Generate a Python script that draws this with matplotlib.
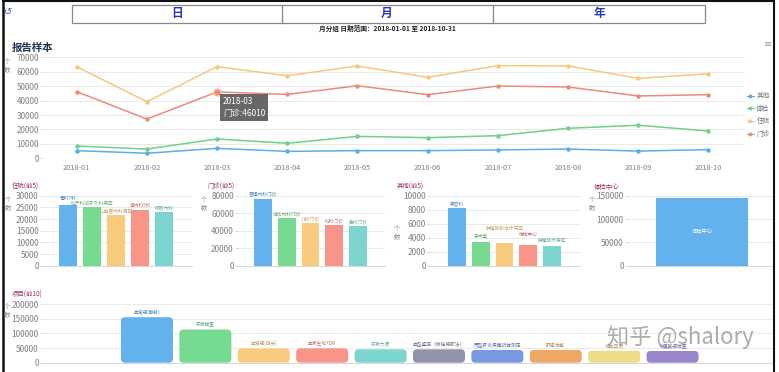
import matplotlib
matplotlib.use('Agg')
import matplotlib.pyplot as plt
from matplotlib.patches import Rectangle, FancyBboxPatch
from matplotlib.lines import Line2D
import matplotlib.colors as mcolors

plt.rcParams['font.family'] = ['Noto Sans CJK SC', 'DejaVu Sans']

# ---------------- data ----------------
months = ['2018-01', '2018-02', '2018-03', '2018-04', '2018-05',
          '2018-06', '2018-07', '2018-08', '2018-09', '2018-10']
series_names = ['其他', '体检', '住院', '门诊']
other = [5300, 3500, 6900, 4800, 5300, 5300, 5800, 6400, 5000, 6000]
checkup = [8500, 6400, 13400, 10400, 15200, 14300, 15700, 20800, 22900, 18900]
inpatient = [63500, 39200, 63500, 57200, 64000, 56100, 64200, 64000, 55400, 58600]
outpatient = [46200, 27200, 46010, 44300, 50300, 44100, 50100, 49400, 43200, 44100]

inp_names = ['骨科7科', '妇产科泌尿外科病区', '心血管内科病区', '肾内科5科', '呼吸内科']
inp_vals = [26000, 25000, 21800, 23900, 23100]
out_names = ['普通内科门诊', '消化内科门诊', '儿科门诊', '妇科门诊', '急诊门诊']
out_vals = [76000, 54900, 48400, 46500, 45400]
oth_names = ['美容科', '手术室', '肿瘤放射治疗病区', '体检中心', '肿瘤放疗病区']
oth_vals = [8200, 3430, 3200, 2960, 2860]
ctr_names = ['体检中心']
ctr_vals = [145700]
item_names = ['血常规(静脉)', '尿液检查', '血常规(指尖)', '血液生化+DR', '尿液六项',
              '血型鉴定（微柱凝胶法）', '丙型肝炎病毒抗体测定', '肝肾功能', '凝血四项', '小便常规检查']
item_vals = [155000, 113000, 49000, 49000, 45600, 45600, 43300, 43300, 40900, 39900]

palette = ['#63b2ee', '#76da91', '#f8cb7f', '#f89588', '#7cd6cf',
           '#9192ab', '#7898e1', '#efa666', '#eddd86', '#9987ce']

W, H = 779, 372
fig = plt.figure(figsize=(W / 100, H / 100), dpi=100)


def fx(x):
    return x / W


def fy(y):
    return 1 - y / H


def add_ax(x0, x1, ytop, ybot):
    return fig.add_axes([fx(x0), fy(ybot), (x1 - x0) / W, (ybot - ytop) / H])


def darker(c, f=0.8):
    r, g, b = mcolors.to_rgb(c)
    return (r * f, g * f, b * f)


def style(ax, ymax, step, fs=6):
    ax.set_ylim(0, ymax)
    ax.set_yticks(list(range(0, ymax + 1, step)))
    ax.grid(axis='y', color='#e6e6e6', lw=0.6)
    ax.set_axisbelow(True)
    for s in ['top', 'right', 'left']:
        ax.spines[s].set_visible(False)
    ax.spines['bottom'].set_color('#d0d0d0')
    ax.spines['bottom'].set_linewidth(0.6)
    ax.tick_params(axis='y', length=2, width=0.5, color='#cccccc',
                   labelsize=fs, labelcolor='#808080', pad=1)
    ax.tick_params(axis='x', length=0)
    ax.patch.set_alpha(0)


# ---------------- frame & header ----------------
fig.add_artist(Line2D([fx(3), fx(3)], [0, 1], color='#111111', lw=1.8))
fig.add_artist(Line2D([fx(3), fx(774)], [fy(1), fy(1)], color='#111111', lw=1.5))
fig.add_artist(Line2D([fx(774), fx(774)], [0, fy(1)], color='#111111', lw=1.5))

fig.add_artist(Rectangle((fx(72), fy(22.5)), (705 - 72) / W, 18 / H,
                         fill=False, ec='#888888', lw=0.9))
for xd in [282, 493]:
    fig.add_artist(Line2D([fx(xd), fx(xd)], [fy(22.5), fy(4.5)], color='#888888', lw=0.9))
for txt, xc in [('日', 177), ('月', 387), ('年', 599)]:
    fig.text(fx(xc), fy(13.5), txt, ha='center', va='center', fontsize=8.5,
             fontweight='bold', color='#2a36b8')
fig.text(fx(8), fy(12), '↺', ha='center', va='center', fontsize=7, color='#3a5fcd',
         family='DejaVu Sans')
fig.text(fx(387), fy(28.5), '月分组 日期范围：2018-01-01 至 2018-10-31', ha='center',
         va='center', fontsize=4.8, fontweight='bold', color='#222222')
fig.text(fx(12), fy(48), '报告样本', ha='left', va='center', fontsize=7.5,
         fontweight='bold', color='#1d3557')
fig.text(fx(768), fy(44), '≡', ha='center', va='center', fontsize=7, color='#999999',
         family='DejaVu Sans')

# ---------------- line chart ----------------
ax = add_ax(43, 745, 57.3, 158.3)
style(ax, 70000, 10000, fs=5.8)
ax.spines['bottom'].set_visible(False)
xs = list(range(len(months)))
all_series = [other, checkup, inpatient, outpatient]
line_cols = ['#5aaee8', '#6fd18a', '#f6c878', '#ef8a78']
for s, c in zip(all_series, line_cols):
    ax.plot(xs, s, color=c, lw=1.1, marker='o', ms=2.2, mfc=c, mec=c, zorder=3)
ax.set_xlim(-0.48, len(months) - 1 + 0.52)
ax.set_xticks(xs)
ax.set_xticklabels(months, fontsize=5.3, color='#808080')
ax.tick_params(axis='x', pad=4)
ax.plot([2], [outpatient[2]], 'o', ms=5, color=line_cols[3], mec='#f7b8ac', mew=1, zorder=4)
ax.annotate(f'{months[2]}\n门诊:{outpatient[2]}', xy=(2, outpatient[2]),
            xytext=(6, -5), textcoords='offset pixels', ha='left', va='top',
            fontsize=6, color='white', linespacing=1.4, zorder=6,
            bbox=dict(boxstyle='square,pad=0.35', fc='#5a5a5a', ec='none', alpha=0.92))
handles = [Line2D([], [], color=c, marker='o', ms=1.8, lw=0.8) for c in line_cols]
fig.legend(handles, series_names, loc='upper left', bbox_to_anchor=(fx(747), fy(92)),
           frameon=False, fontsize=4.8, labelcolor='#777777', handlelength=1.0,
           handletextpad=0.4, labelspacing=0.7, borderpad=0, borderaxespad=0)
fig.text(fx(7), fy(65), '个\n数', ha='center', va='center', fontsize=4.6,
         color='#888888', linespacing=1.1)


# ---------------- small bar charts ----------------
def small_chart(x0, x1, xmin, xmax, ymax, step, names, vals, title, title_x, ylab_xy,
                lifts=None, inside=False, width=0.75):
    a = add_ax(x0, x1, 195.7, 265.7)
    style(a, ymax, step, fs=6)
    pos = list(range(len(vals)))
    cols = palette[:len(vals)]
    a.bar(pos, vals, width=width, color=cols, zorder=2)
    a.set_xlim(xmin, xmax)
    a.set_xticks([])
    for i, (n, v) in enumerate(zip(names, vals)):
        if inside:
            a.text(i, v / 2, n, ha='center', va='center', fontsize=3.8, color='white', zorder=3)
        else:
            lift = 1.5 + (lifts[i] if lifts else 0)
            a.annotate(n, xy=(i, v), xytext=(0, lift), textcoords='offset pixels',
                       ha='center', va='bottom', fontsize=3.4, color=darker(cols[i], 0.78),
                       zorder=3, annotation_clip=False)
    fig.text(fx(title_x), fy(187), title, ha='left', va='center', fontsize=4.6,
             color='#9c2f66')
    fig.text(fx(ylab_xy[0]), fy(ylab_xy[1]), '个\n数', ha='center', va='center',
             fontsize=4.6, color='#888888', linespacing=1.1)
    return a


small_chart(43, 192, -1.04, 5.17, 30000, 5000, inp_names, inp_vals, '住院(前5)', 12, (8, 203),
            lifts=[3, 0, -1, 0, 0])
small_chart(238, 385, -1.05, 5.14, 80000, 20000, out_names, out_vals, '门诊(前5)', 207, (204, 203))
small_chart(430, 580, -1.14, 5.18, 10000, 2000, oth_names, oth_vals, '其他(前5)', 397, (397, 232),
            lifts=[0, 1, 11, 6, 1])
small_chart(628, 773, -0.643, 0.617, 150000, 50000, ctr_names, ctr_vals, '体检中心', 594, (592, 203),
            inside=True, width=0.8)

# ---------------- bottom chart ----------------
bx0, bx1, bytop, bybot = 43, 773, 304, 362.7
axb = add_ax(bx0, bx1, bytop, bybot)
style(axb, 200000, 50000, fs=6)
pos = list(range(len(item_vals)))
xmin, xmax = -1.78, 10.72
axb.set_xlim(xmin, xmax)
axb.set_xticks([])
bars = axb.bar(pos, item_vals, width=0.89, color=palette, zorder=2)
ux = (xmax - xmin) / (bx1 - bx0)
uy = 200000 / (bybot - bytop)
aspect = uy / ux
r = 4 * ux
for b, c in zip(bars, palette):
    b.set_visible(False)
    p = FancyBboxPatch((b.get_x(), 0), b.get_width(), b.get_height(),
                       boxstyle=f'round,pad=0,rounding_size={r}', mutation_aspect=aspect,
                       fc=c, ec='none', zorder=2)
    axb.add_patch(p)
for i, (n, v) in enumerate(zip(item_names, item_vals)):
    axb.annotate(n, xy=(i, v), xytext=(0, 2), textcoords='offset pixels', ha='center',
                 va='bottom', fontsize=3.4, color=darker(palette[i], 0.72), zorder=3,
                 annotation_clip=False)
fig.text(fx(12), fy(295), '项目(前10)', ha='left', va='center', fontsize=4.6, color='#9c2f66')
fig.text(fx(7), fy(310), '个\n数', ha='center', va='center', fontsize=4.6,
         color='#888888', linespacing=1.1)

# watermark
fig.text(fx(680), fy(337), '知乎 @shalory', ha='center', va='center', fontsize=16,
         color='#8a8a8a', alpha=0.7, zorder=10, fontweight='light')

fig.savefig('out.png', dpi=100)
